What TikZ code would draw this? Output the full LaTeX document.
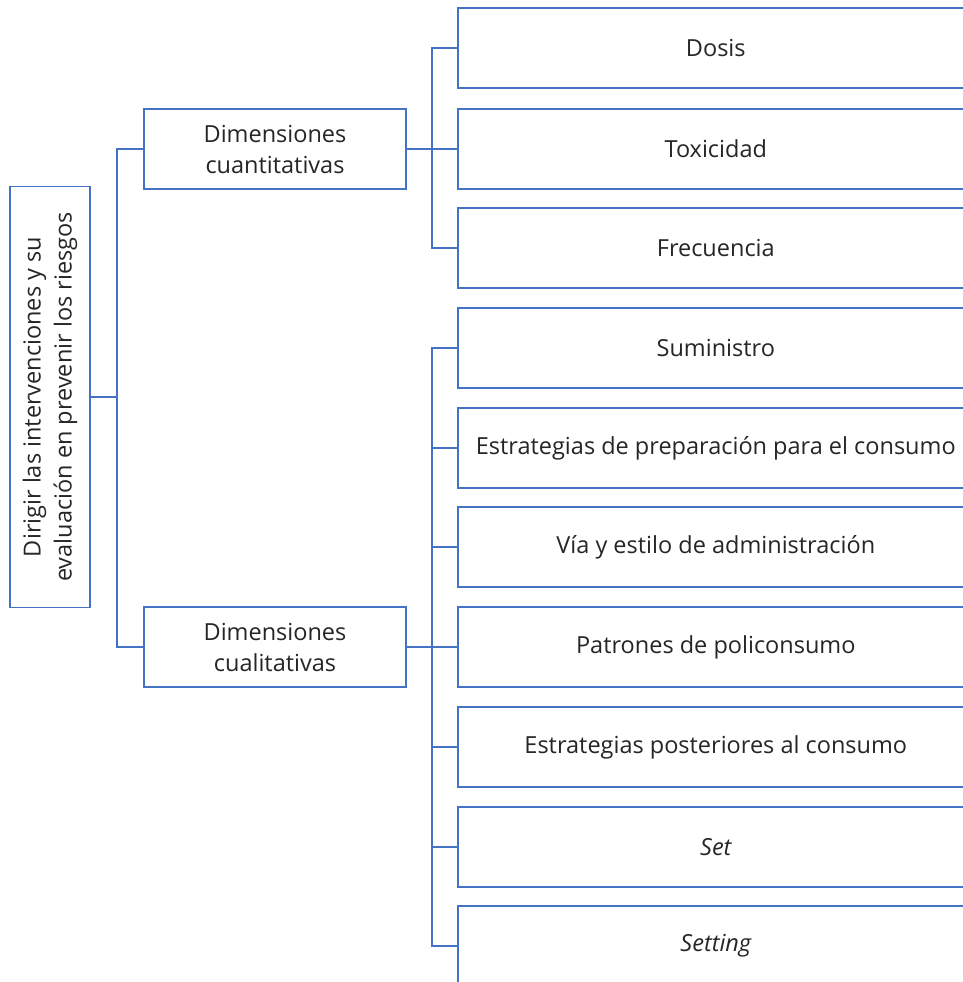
\documentclass[tikz,border=0pt]{standalone}
\usepackage{fontspec}
\setmainfont{Open Sans}
\definecolor{lineblue}{HTML}{4472C4}
\definecolor{txt}{HTML}{262626}
\begin{document}
\begin{tikzpicture}[x=1pt,y=-1pt,
  box/.style={draw=lineblue,line width=1.6pt,fill=white,text=txt,
    font=\fontsize{23.5}{31}\selectfont,align=center,inner sep=0pt},
  leaf/.style={box,minimum width=516pt,minimum height=80pt,anchor=west},
  mid/.style={box,minimum width=262pt,minimum height=80pt},
  link/.style={draw=lineblue,line width=1.6pt}]
\useasboundingbox (0,0) rectangle (963,982);
\clip (0,0) rectangle (963,982);

% root, rotated
\node[box,minimum width=421pt,minimum height=80pt,rotate=90] (root) at (50,397)
  {Dirigir las intervenciones y su\\evaluación en prevenir los riesgos};

% second level
\node[mid] (dq) at (275,149) {Dimensiones\\cuantitativas};
\node[mid] (dc) at (275,647) {Dimensiones\\cualitativas};

% bus positions
\coordinate (b0) at (117,0);
\coordinate (b1) at (432,0);
\coordinate (b2) at (432,0);

% leaves
\node[leaf] (l1) at (457,48) {Dosis};
\node[leaf] (l2) at (457,149) {Toxicidad};
\node[leaf] (l3) at (457,248) {Frecuencia};
\node[leaf] (l4) at (457,348) {Suministro};
\node[leaf] (l5) at (457,448) {Estrategias de preparación para el consumo};
\node[leaf] (l6) at (457,547) {Vía y estilo de administración};
\node[leaf] (l7) at (457,647) {Patrones de policonsumo};
\node[leaf] (l8) at (457,747) {Estrategias posteriores al consumo};
\node[leaf] (l9) at (457,847) {\itshape Set};
\node[leaf] (l10) at (457,946) {\itshape Setting};

% connectors
\foreach \c in {dq,dc}
  \draw[link] (root.south) -- (root.south -| b0) |- (\c.west);
\foreach \c in {l1,l2,l3}
  \draw[link] (dq.east) -- (dq.east -| b1) |- (\c.west);
\foreach \c in {l4,l5,l6,l7,l8,l9,l10}
  \draw[link] (dc.east) -- (dc.east -| b2) |- (\c.west);
\end{tikzpicture}
\end{document}
